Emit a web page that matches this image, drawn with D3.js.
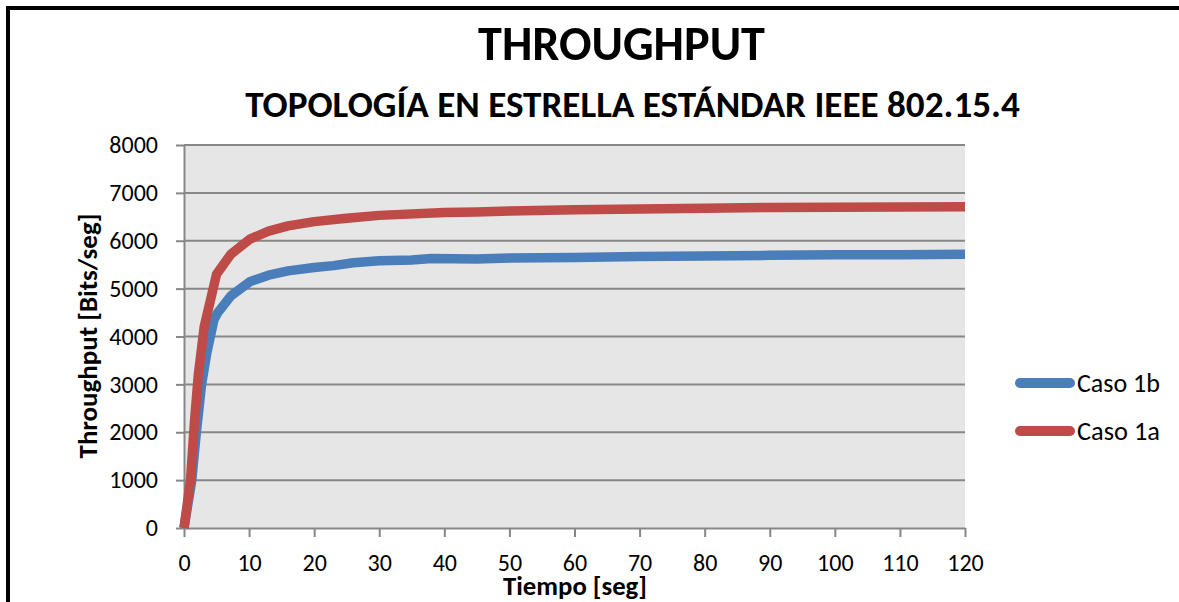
<!DOCTYPE html>
<html>
<head>
<meta charset="utf-8">
<script src="https://cdn.jsdelivr.net/npm/d3@7"></script>
<style>
  html, body { margin: 0; padding: 0; background: #fff; }
  svg { display: block; }
  text { font-family: Carlito, Lato, "Open Sans", sans-serif; fill: #000; }
</style>
</head>
<body>
<svg id="chart" width="1179" height="602"></svg>
<script>
// ---- Data ----
const titleText = "THROUGHPUT";
const subtitleText = "TOPOLOGÍA EN ESTRELLA ESTÁNDAR IEEE 802.15.4";
const xAxisTitle = "Tiempo [seg]";
const yAxisTitle = "Throughput [Bits/seg]";
const seriesNames = ["Caso 1b", "Caso 1a"];
const xTickValues = [0, 10, 20, 30, 40, 50, 60, 70, 80, 90, 100, 110, 120];
const yTickValues = [0, 1000, 2000, 3000, 4000, 5000, 6000, 7000, 8000];

const caso1bTime = [0, 1.2, 1.9, 2.7, 3.5, 4.6, 5.2, 7.2, 10.2, 13, 16, 20, 23, 26, 30, 35, 38, 45, 50, 60, 70, 80, 90, 100, 110, 120];
const caso1bValues = [0, 1000, 2000, 3000, 3650, 4350, 4500, 4850, 5150, 5280, 5370, 5440, 5480, 5540, 5580, 5600, 5630, 5620, 5640, 5650, 5670, 5680, 5695, 5705, 5710, 5720];

const caso1aTime = [0, 1.0, 1.6, 2.2, 3.1, 5.0, 7.2, 10.2, 13, 16, 20, 25, 30, 40, 45, 50, 60, 70, 80, 90, 100, 110, 120];
const caso1aValues = [0, 1000, 2200, 3200, 4200, 5300, 5720, 6040, 6200, 6310, 6400, 6470, 6530, 6590, 6600, 6620, 6650, 6665, 6680, 6695, 6700, 6705, 6710];

const seriesColors = ["#4A7EBB", "#BE4B48"];

// ---- Chart ----
const svg = d3.select("#chart");
const plot = { left: 184, right: 965, top: 145, bottom: 528 };

const x = d3.scaleLinear().domain([0, 120]).range([plot.left, plot.right]);
const y = d3.scaleLinear().domain([0, 8000]).range([plot.bottom, plot.top]);

// outer frame (top and left edges visible)
svg.append("path")
  .attr("d", `M8,${602 + 10} V8 H${1179 + 10}`)
  .attr("fill", "none").attr("stroke", "#000").attr("stroke-width", 4);

// plot background
svg.append("rect")
  .attr("x", plot.left).attr("y", plot.top)
  .attr("width", plot.right - plot.left).attr("height", plot.bottom - plot.top)
  .attr("fill", "#E6E6E6");

// gridlines
const gridGray = "#878787";
svg.append("g").selectAll("line")
  .data(yTickValues.filter(v => v > 0))
  .join("line")
  .attr("x1", plot.left).attr("x2", plot.right)
  .attr("y1", d => y(d)).attr("y2", d => y(d))
  .attr("stroke", gridGray).attr("stroke-width", 2);

// axes
const fmt = d3.format("d");
const xAxis = svg.append("g")
  .attr("transform", `translate(0,${plot.bottom})`)
  .call(d3.axisBottom(x).tickValues(xTickValues).tickFormat(fmt).tickSize(9).tickPadding(17).tickSizeOuter(0));
const yAxis = svg.append("g")
  .attr("transform", `translate(${plot.left},0)`)
  .call(d3.axisLeft(y).tickValues(yTickValues).tickFormat(fmt).tickSize(8).tickPadding(18).tickSizeOuter(0));

[xAxis, yAxis].forEach(g => {
  g.select(".domain").attr("stroke", gridGray).attr("stroke-width", 2);
  g.selectAll(".tick line").attr("stroke", gridGray).attr("stroke-width", 2);
  g.selectAll(".tick text").style("font-size", "24px").attr("fill", "#000");
});

// lines
const lineGen = d3.line().x(d => x(d[0])).y(d => y(d[1]));
const seriesData = [
  d3.zip(caso1bTime, caso1bValues),
  d3.zip(caso1aTime, caso1aValues)
];
svg.append("g").selectAll("path")
  .data(seriesData)
  .join("path")
  .attr("d", d => lineGen(d))
  .attr("fill", "none")
  .attr("stroke", (d, i) => seriesColors[i])
  .attr("stroke-width", 9.5)
  .attr("stroke-linejoin", "round");

// helper to fit text width
function fit(sel, targetWidth) {
  const node = sel.node();
  const fs = parseFloat(sel.style("font-size"));
  const w = node.getComputedTextLength();
  sel.style("font-size", (fs * targetWidth / w) + "px");
  return sel;
}

// titles
const t1 = svg.append("text")
  .attr("x", 621.5).attr("y", 60).attr("text-anchor", "middle")
  .style("font-weight", "bold").style("font-size", "46px").text(titleText);
fit(t1, 287);

const t2 = svg.append("text")
  .attr("x", 632.5).attr("y", 117).attr("text-anchor", "middle")
  .style("font-weight", "bold").style("font-size", "32px").text(subtitleText);
fit(t2, 775);

const xt = svg.append("text")
  .attr("x", 575).attr("y", 595).attr("text-anchor", "middle")
  .style("font-weight", "bold").style("font-size", "22px").text(xAxisTitle);
fit(xt, 144);

const yt = svg.append("text")
  .attr("transform", "translate(97,336) rotate(-90)").attr("text-anchor", "middle")
  .style("font-weight", "bold").style("font-size", "22px").text(yAxisTitle);
fit(yt, 245);

// legend
const legendY = [383, 431];
const legend = svg.append("g").selectAll("g")
  .data(seriesNames)
  .join("g")
  .attr("transform", (d, i) => `translate(0,${legendY[i]})`);
legend.append("line")
  .attr("x1", 1020).attr("x2", 1070).attr("y1", 0).attr("y2", 0)
  .attr("stroke", (d, i) => seriesColors[i])
  .attr("stroke-width", 10).attr("stroke-linecap", "round");
legend.append("text")
  .attr("x", 1077).attr("y", 0).attr("dy", "0.35em")
  .style("font-size", "22px").text(d => d)
  .each(function () { fit(d3.select(this), 83); });
</script>
</body>
</html>
